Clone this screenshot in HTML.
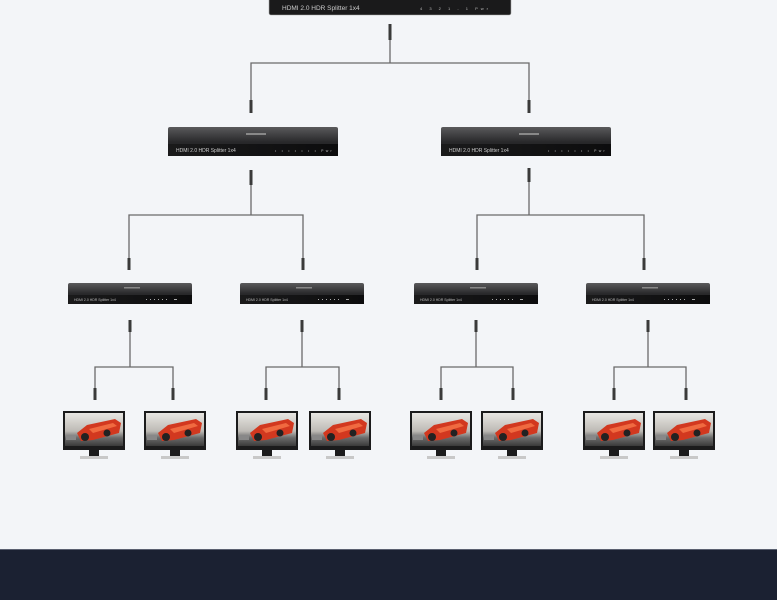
<!DOCTYPE html>
<html><head><meta charset="utf-8"><style>
html,body{margin:0;padding:0;width:777px;height:600px;overflow:hidden;background:#f3f5f8}
svg{display:block}
</style></head><body>
<svg width="777" height="600" viewBox="0 0 777 600" xmlns="http://www.w3.org/2000/svg" font-family="Liberation Sans, sans-serif">
<defs>
<linearGradient id="top" x1="0" y1="0" x2="0" y2="1"><stop offset="0" stop-color="#5a5a5c"/><stop offset="0.5" stop-color="#2a2a2c"/><stop offset="1" stop-color="#151516"/></linearGradient>
<linearGradient id="front" x1="0" y1="0" x2="1" y2="0"><stop offset="0" stop-color="#1a1a1b"/><stop offset="1" stop-color="#0c0c0d"/></linearGradient>
<linearGradient id="scr" x1="0" y1="0" x2="0" y2="1"><stop offset="0" stop-color="#e8e6e2"/><stop offset="0.55" stop-color="#bdbab5"/><stop offset="0.75" stop-color="#6b6b6b"/><stop offset="1" stop-color="#3a3a3a"/></linearGradient>
<g id="mon">
<rect x="0" y="0" width="62" height="39" fill="#1b1b1c"/>
<rect x="2" y="2" width="58" height="33" fill="url(#scr)"/>
<polygon points="14,22 24,14 52,8 58,12 56,22 30,29 18,30" fill="#d2381f"/>
<polygon points="26,18 50,12 54,15 30,22" fill="#f06a40"/>
<circle cx="22" cy="26" r="4" fill="#222"/><circle cx="44" cy="22" r="3.5" fill="#222"/>
<rect x="3" y="24" width="10" height="5" fill="#888"/>
<rect x="26" y="39" width="10" height="6" fill="#1b1b1c"/>
<rect x="17" y="45" width="28" height="3" fill="#c8c8c8"/>
</g>
<g id="box3">
<rect x="0" y="0" width="124" height="21" rx="2" fill="url(#top)"/>
<rect x="0" y="12" width="124" height="9" fill="url(#front)"/>
<rect x="56" y="4" width="16" height="1.5" fill="#888"/>
<text x="6" y="18" font-size="3.5" fill="#bbb">HDMI 2.0 HDR Splitter 1x4</text>
<g fill="#aaa"><rect x="78" y="16" width="1" height="1"/><rect x="82" y="16" width="1" height="1"/><rect x="86" y="16" width="1" height="1"/><rect x="90" y="16" width="1" height="1"/><rect x="94" y="16" width="1" height="1"/><rect x="98" y="16" width="1" height="1"/><rect x="106" y="16" width="3" height="1"/></g>
</g>
</defs>
<!-- top splitter -->
<rect x="269" y="-6" width="242" height="21" rx="2" fill="#1a1a1b" stroke="#aaa" stroke-width="0.6"/>
<text x="282" y="10" font-size="6.5" fill="#ccc">HDMI 2.0 HDR Splitter 1x4</text>
<text x="420" y="10" font-size="4" fill="#bbb" letter-spacing="3">4 3 2 1 - 1 Pwr</text>
<!-- connectors -->
<g stroke="#6a6a6a" stroke-width="1.3" fill="none">
<path d="M390 40V63M251 100V63H529V100"/>
<path d="M251 185V215M129 258V215H303V258"/>
<path d="M529 182V215M477 258V215H644V258"/>
<path d="M130 332V367M95 388V367H173V388"/>
<path d="M302 332V367M266 388V367H339V388"/>
<path d="M476 332V367M441 388V367H513V388"/>
<path d="M648 332V367M614 388V367H686V388"/>
</g>
<g stroke="#3a3a3a" stroke-width="3">
<path d="M390 24V40M251 100V113M529 100V113"/>
<path d="M251 170V185M529 168V182"/>
<path d="M129 258V270M303 258V270M477 258V270M644 258V270"/>
<path d="M130 320V332M302 320V332M476 320V332M648 320V332"/>
<path d="M95 388V400M173 388V400M266 388V400M339 388V400M441 388V400M513 388V400M614 388V400M686 388V400"/>
</g>
<!-- level2 -->
<g transform="translate(168,127)">
<rect width="170" height="29" rx="2" fill="url(#top)"/><rect y="17" width="170" height="12" fill="url(#front)"/>
<rect x="78" y="6" width="20" height="2" fill="#888"/>
<text x="8" y="25" font-size="5" fill="#ccc">HDMI 2.0 HDR Splitter 1x4</text>
<text x="107" y="25" font-size="3.5" fill="#bbb" letter-spacing="2.2">• • • • • • • Pwr</text>
</g>
<g transform="translate(441,127)">
<rect width="170" height="29" rx="2" fill="url(#top)"/><rect y="17" width="170" height="12" fill="url(#front)"/>
<rect x="78" y="6" width="20" height="2" fill="#888"/>
<text x="8" y="25" font-size="5" fill="#ccc">HDMI 2.0 HDR Splitter 1x4</text>
<text x="107" y="25" font-size="3.5" fill="#bbb" letter-spacing="2.2">• • • • • • • Pwr</text>
</g>
<!-- level3 -->
<use href="#box3" x="68" y="283"/>
<use href="#box3" x="240" y="283"/>
<use href="#box3" x="414" y="283"/>
<use href="#box3" x="586" y="283"/>
<!-- monitors -->
<use href="#mon" x="63" y="411"/><use href="#mon" x="144" y="411"/>
<use href="#mon" x="236" y="411"/><use href="#mon" x="309" y="411"/>
<use href="#mon" x="410" y="411"/><use href="#mon" x="481" y="411"/>
<use href="#mon" x="583" y="411"/><use href="#mon" x="653" y="411"/>
<!-- footer -->
<rect x="0" y="549" width="777" height="1" fill="#5a6070"/>
<rect x="0" y="550" width="777" height="50" fill="#1b2132"/>
</svg>
</body></html>
